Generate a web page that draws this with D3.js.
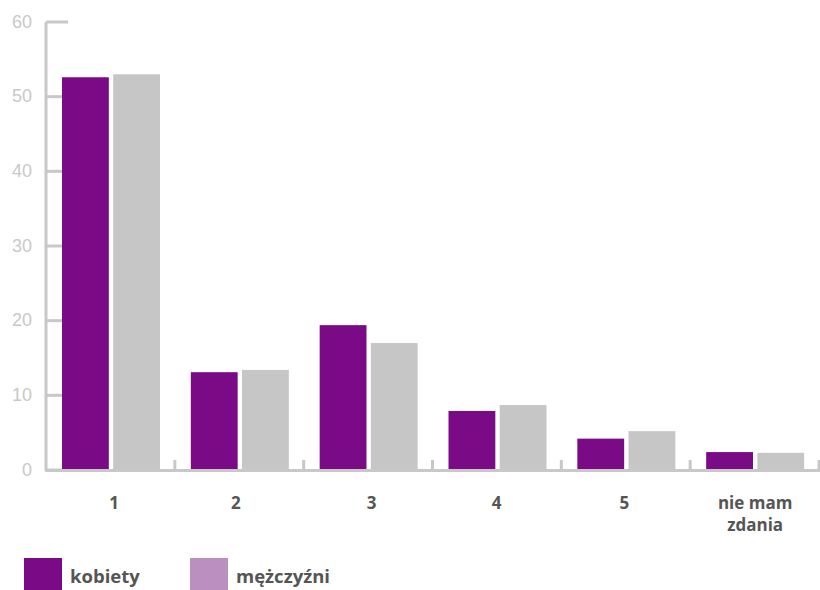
<!DOCTYPE html>
<html>
<head>
<meta charset="utf-8">
<script src="https://cdn.jsdelivr.net/npm/d3@7"></script>
<style>
  html, body { margin: 0; padding: 0; background: #fff; }
  svg { display: block; }
</style>
</head>
<body>
<svg id="chart" width="820" height="590"></svg>
<script>
// Answer categories and shares (%) by gender
const categories = ["1", "2", "3", "4", "5", "nie mam\nzdania"];
const kobiety    = [52.6, 13.1, 19.4, 7.9, 4.2, 2.4];
const mezczyzni  = [53.0, 13.4, 17.0, 8.7, 5.2, 2.3];
const yTicks     = [0, 10, 20, 30, 40, 50, 60];
const seriesNames = ["kobiety", "mężczyźni"];

const svg = d3.select("#chart");
const axisColor = "#c8c8c8";
const purple = "#7a0a85";
const grey = "#c6c6c6";
const legendLilac = "#bb8fc0";

const x0 = 46, x1 = 819, yTop = 22, yBase = 470;

const x = d3.scaleBand().domain(categories).range([x0, x1]).paddingInner(0).paddingOuter(0);
const y = d3.scaleLinear().domain([0, 60]).range([yBase, yTop]);

// Y axis: vertical line, ticks pointing right, labels on the left
const yAxis = svg.append("g");
yAxis.append("line")
  .attr("x1", x0).attr("x2", x0)
  .attr("y1", y(60)).attr("y2", yBase + 1.5)
  .attr("stroke", axisColor).attr("stroke-width", 3);
yAxis.selectAll("line.tick").data(yTicks).join("line")
  .attr("class", "tick")
  .attr("x1", x0).attr("x2", x0 + 22)
  .attr("y1", d => y(d)).attr("y2", d => y(d))
  .attr("stroke", axisColor).attr("stroke-width", 3);
yAxis.selectAll("text").data(yTicks).join("text")
  .attr("x", 32).attr("y", d => y(d) + 5.5)
  .attr("text-anchor", "end")
  .attr("font-family", "Liberation Sans, Arial, sans-serif")
  .attr("font-size", 18)
  .attr("fill", axisColor)
  .text(d => d);

// Bars
const inner = d3.scaleBand().domain(seriesNames).range([16, 114]).paddingInner(0.085);
const groups = svg.append("g").selectAll("g").data(categories).join("g")
  .attr("transform", d => `translate(${x(d)},0)`);
groups.append("rect")
  .attr("x", inner("kobiety")).attr("width", inner.bandwidth())
  .attr("y", (d, i) => y(kobiety[i])).attr("height", (d, i) => yBase - y(kobiety[i]))
  .attr("fill", purple);
groups.append("rect")
  .attr("x", inner("mężczyźni")).attr("width", inner.bandwidth())
  .attr("y", (d, i) => y(mezczyzni[i])).attr("height", (d, i) => yBase - y(mezczyzni[i]))
  .attr("fill", grey);

// X axis: baseline with short upward ticks between categories
const xAxis = svg.append("g");
xAxis.append("line")
  .attr("x1", x0).attr("x2", 820)
  .attr("y1", yBase + 0.5).attr("y2", yBase + 0.5)
  .attr("stroke", axisColor).attr("stroke-width", 3);
xAxis.selectAll("line.tick").data(categories).join("line")
  .attr("class", "tick")
  .attr("x1", d => x(d) + x.bandwidth()).attr("x2", d => x(d) + x.bandwidth())
  .attr("y1", yBase - 10).attr("y2", yBase)
  .attr("stroke", axisColor).attr("stroke-width", 3);

// Category labels, nudged slightly off the group centre
const labelNudge = [3, -4, 3, -1, -2, 0];
const labels = xAxis.selectAll("text").data(categories).join("text")
  .attr("text-anchor", "middle")
  .attr("font-family", "Open Sans, sans-serif")
  .attr("font-weight", 700)
  .attr("font-size", 17)
  .attr("fill", "#555");
labels.each(function (d, i) {
  const lines = d.split("\n");
  const t = d3.select(this);
  lines.forEach((ln, k) => {
    t.append("tspan")
      .attr("x", x(d) + 16 + 49 + labelNudge[i])
      .attr("y", 509 + k * 22)
      .text(ln);
  });
});

// Legend
const legendColors = [purple, legendLilac];
const legendX = [24, 190];
const legend = svg.append("g").selectAll("g").data(seriesNames).join("g")
  .attr("transform", (d, i) => `translate(${legendX[i]},558)`);
legend.append("rect")
  .attr("width", 38).attr("height", 32)
  .attr("fill", (d, i) => legendColors[i]);
legend.append("text")
  .attr("x", 46).attr("y", 25)
  .attr("font-family", "Open Sans, sans-serif")
  .attr("font-weight", 700)
  .attr("font-size", 18.5)
  .attr("fill", "#555")
  .text(d => d);
</script>
</body>
</html>
